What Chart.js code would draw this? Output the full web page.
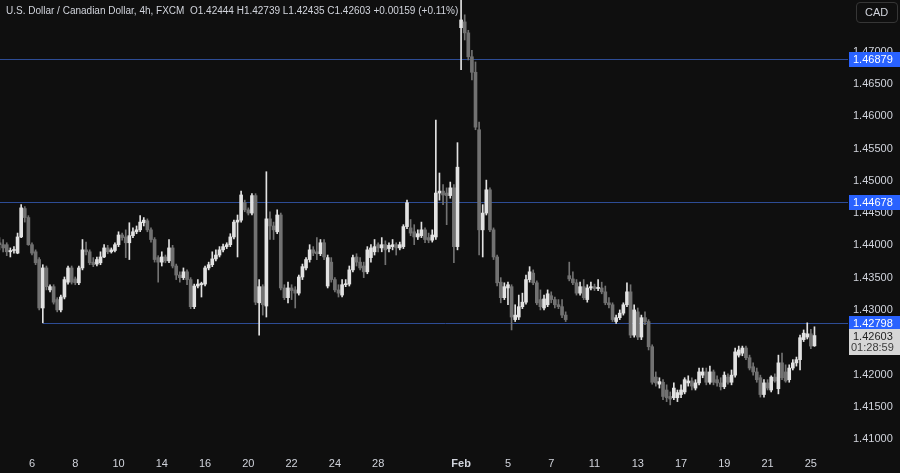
<!DOCTYPE html>
<html>
<head>
<meta charset="utf-8">
<script src="https://cdn.jsdelivr.net/npm/chart.js@4.4.1/dist/chart.umd.min.js"></script>
<style>
  html, body { margin: 0; padding: 0; background: #0f0f0f; }
  #wrap { position: relative; width: 900px; height: 473px; overflow: hidden; }
  #title { position: absolute; left: 6px; top: 5px; font: 10px "Liberation Sans", Arial, sans-serif; color: #d1d4dc; white-space: pre; }
  #cad { position: absolute; left: 856px; top: 2px; width: 40px; height: 19px; border: 1px solid #363636; border-radius: 4px;
         font: 11px "Liberation Sans", Arial, sans-serif; color: #d1d4dc; line-height: 19px; text-indent: 8px; }
</style>
</head>
<body>
<div id="wrap">
  <canvas id="chart" width="900" height="473"></canvas>
  <div id="title">U.S. Dollar / Canadian Dollar, 4h, FXCM  O1.42444 H1.42739 L1.42435 C1.42603 +0.00159 (+0.11%)</div>
  <div id="cad">CAD</div>
</div>
<script>
// USD/CAD 4h candles
const opens = [
  1.4404,1.4401,1.4401,1.4390,1.4392,1.4388,1.4413,1.4457,1.4443,1.4401,1.4390,1.4378,1.4303,1.4365,1.4331,1.4336,1.4316,1.4300,1.4320,1.4343,
  1.4365,1.4348,1.4342,1.4365,1.4393,1.4390,1.4374,1.4371,1.4373,1.4382,1.4396,1.4390,1.4392,1.4401,1.4416,1.4413,1.4404,1.4415,1.4421,1.4424,
  1.4435,1.4438,1.4424,1.4409,1.4381,1.4374,1.4382,1.4376,1.4396,1.4368,1.4354,1.4350,1.4359,1.4347,1.4305,1.4337,1.4339,1.4340,1.4365,1.4370,
  1.4379,1.4385,1.4393,1.4398,1.4401,1.4413,1.4436,1.4439,1.4466,1.4455,1.4450,1.4477,1.4311,1.4336,1.4306,1.4441,1.4430,1.4421,1.4447,1.4334,
  1.4319,1.4334,1.4331,1.4326,1.4351,1.4365,1.4378,1.4393,1.4390,1.4387,1.4404,1.4337,1.4374,1.4347,1.4331,1.4323,1.4339,1.4340,1.4362,1.4382,
  1.4374,1.4368,1.4359,1.4381,1.4390,1.4401,1.4396,1.4401,1.4395,1.4398,1.4401,1.4396,1.4398,1.4429,1.4427,1.4421,1.4413,1.4415,1.4424,1.4412,
  1.4408,1.4413,1.4481,1.4484,1.4481,1.4477,1.4489,1.4398,1.4737,1.4746,1.4729,1.4692,1.4668,1.4579,1.4424,1.4450,1.4486,1.4424,1.4382,1.4343,
  1.4319,1.4334,1.4336,1.4285,1.4289,1.4305,1.4312,1.4347,1.4357,1.4342,1.4316,1.4303,1.4308,1.4322,1.4316,1.4308,1.4305,1.4292,1.4353,1.4348,
  1.4342,1.4326,1.4336,1.4316,1.4334,1.4336,1.4333,1.4334,1.4328,1.4311,1.4308,1.4282,1.4288,1.4295,1.4308,1.4328,1.4261,1.4297,1.4258,1.4288,
  1.4282,1.4243,1.4196,1.4185,1.4188,1.4176,1.4166,1.4164,1.4164,1.4169,1.4173,1.4187,1.4190,1.4179,1.4187,1.4199,1.4204,1.4188,1.4204,1.4192,
  1.4187,1.4181,1.4196,1.4188,1.4199,1.4230,1.4233,1.4241,1.4226,1.4212,1.4204,1.4195,1.4169,1.4187,1.4176,1.4196,1.4178,1.4218,1.4204,1.4192,
  1.4210,1.4218,1.4223,1.4254,1.4258,1.4263,1.42444
];
const highs = [
  1.4412,1.4409,1.4404,1.4396,1.4398,1.4419,1.4463,1.4460,1.4446,1.4404,1.4393,1.4381,1.4370,1.4368,1.4339,1.4339,1.4319,1.4323,1.4351,1.4368,
  1.4368,1.4351,1.4368,1.4409,1.4405,1.4393,1.4381,1.4382,1.4390,1.4401,1.4400,1.4396,1.4404,1.4421,1.4419,1.4424,1.4435,1.4427,1.4430,1.4446,
  1.4443,1.4441,1.4427,1.4412,1.4384,1.4390,1.4385,1.4409,1.4400,1.4371,1.4359,1.4365,1.4362,1.4350,1.4340,1.4347,1.4343,1.4368,1.4374,1.4390,
  1.4393,1.4398,1.4402,1.4404,1.4418,1.4439,1.4447,1.4484,1.4470,1.4458,1.4480,1.4480,1.4347,1.4339,1.4514,1.4452,1.4436,1.4455,1.4450,1.4339,
  1.4343,1.4339,1.4336,1.4354,1.4371,1.4381,1.4401,1.4398,1.4412,1.4409,1.4409,1.4385,1.4381,1.4350,1.4339,1.4347,1.4347,1.4368,1.4385,1.4387,
  1.4381,1.4374,1.4398,1.4401,1.4409,1.4404,1.4412,1.4407,1.4404,1.4409,1.4404,1.4405,1.4432,1.4470,1.4440,1.4432,1.4424,1.4436,1.4427,1.4419,
  1.4424,1.4594,1.4512,1.4494,1.4489,1.4498,1.4494,1.4559,1.4785,1.4757,1.4733,1.4702,1.4684,1.4591,1.4463,1.4501,1.4489,1.4427,1.4385,1.4350,
  1.4342,1.4343,1.4339,1.4308,1.4323,1.4326,1.4354,1.4367,1.4362,1.4345,1.4331,1.4323,1.4331,1.4328,1.4320,1.4316,1.4316,1.4297,1.4374,1.4359,
  1.4347,1.4343,1.4347,1.4339,1.4343,1.4340,1.4347,1.4343,1.4337,1.4319,1.4311,1.4292,1.4300,1.4311,1.4342,1.4339,1.4308,1.4303,1.4292,1.4297,
  1.4285,1.4246,1.4204,1.4195,1.4192,1.4184,1.4173,1.4187,1.4176,1.4184,1.4195,1.4198,1.4195,1.4192,1.4210,1.4210,1.4210,1.4213,1.4207,1.4198,
  1.4195,1.4204,1.4201,1.4207,1.4241,1.4244,1.4244,1.4244,1.4230,1.4218,1.4210,1.4199,1.4192,1.4192,1.4198,1.4201,1.4230,1.4233,1.4215,1.4215,
  1.4223,1.4227,1.4261,1.4269,1.4280,1.4270,1.42739
];
const lows = [
  1.4393,1.4390,1.4384,1.4382,1.4388,1.4387,1.4412,1.4436,1.4400,1.4385,1.4370,1.4300,1.4280,1.4331,1.4328,1.4309,1.4297,1.4297,1.4317,1.4340,
  1.4340,1.4339,1.4339,1.4362,1.4385,1.4370,1.4367,1.4368,1.4370,1.4381,1.4387,1.4388,1.4390,1.4398,1.4408,1.4381,1.4378,1.4412,1.4418,1.4421,
  1.4430,1.4421,1.4405,1.4374,1.4343,1.4368,1.4373,1.4373,1.4365,1.4347,1.4343,1.4347,1.4339,1.4302,1.4302,1.4334,1.4320,1.4337,1.4362,1.4367,
  1.4376,1.4382,1.4390,1.4395,1.4398,1.4410,1.4382,1.4436,1.4452,1.4447,1.4447,1.4308,1.4261,1.4292,1.4289,1.4409,1.4409,1.4418,1.4331,1.4316,
  1.4311,1.4316,1.4303,1.4323,1.4347,1.4362,1.4374,1.4384,1.4378,1.4384,1.4378,1.4334,1.4343,1.4328,1.4320,1.4320,1.4336,1.4337,1.4359,1.4368,
  1.4362,1.4350,1.4356,1.4374,1.4385,1.4390,1.4390,1.4370,1.4390,1.4393,1.4385,1.4393,1.4395,1.4426,1.4415,1.4401,1.4409,1.4412,1.4404,1.4404,
  1.4405,1.4409,1.4470,1.4463,1.4432,1.4473,1.4373,1.4393,1.4672,1.4718,1.4687,1.4656,1.4579,1.4385,1.4382,1.4447,1.4421,1.4378,1.4337,1.4311,
  1.4316,1.4308,1.4269,1.4282,1.4285,1.4302,1.4309,1.4343,1.4339,1.4308,1.4300,1.4300,1.4305,1.4311,1.4303,1.4302,1.4288,1.4282,1.4345,1.4339,
  1.4323,1.4323,1.4316,1.4312,1.4331,1.4330,1.4330,1.4325,1.4308,1.4303,1.4282,1.4279,1.4285,1.4292,1.4305,1.4257,1.4258,1.4254,1.4254,1.4277,
  1.4238,1.4185,1.4182,1.4179,1.4161,1.4158,1.4153,1.4161,1.4158,1.4164,1.4170,1.4182,1.4176,1.4176,1.4184,1.4195,1.4184,1.4185,1.4184,1.4182,
  1.4176,1.4178,1.4185,1.4184,1.4196,1.4227,1.4229,1.4223,1.4207,1.4199,1.4188,1.4165,1.4165,1.4176,1.4173,1.4188,1.4170,1.4192,1.4188,1.4188,
  1.4207,1.4213,1.4207,1.4251,1.4255,1.4240,1.42435
];
const closes = [
  1.4401,1.4396,1.4390,1.4392,1.4393,1.4413,1.4458,1.4443,1.4401,1.4388,1.4373,1.4303,1.4365,1.4336,1.4336,1.4312,1.4300,1.4320,1.4347,1.4365,
  1.4343,1.4342,1.4365,1.4393,1.4390,1.4373,1.4370,1.4378,1.4382,1.4396,1.4390,1.4393,1.4401,1.4416,1.4412,1.4404,1.4415,1.4421,1.4424,1.4436,
  1.4439,1.4424,1.4409,1.4378,1.4374,1.4382,1.4376,1.4396,1.4368,1.4354,1.4350,1.4359,1.4347,1.4305,1.4337,1.4340,1.4341,1.4365,1.4370,1.4379,
  1.4385,1.4393,1.4398,1.4401,1.4413,1.4436,1.4439,1.4478,1.4455,1.4450,1.4477,1.4312,1.4336,1.4308,1.4441,1.4430,1.4424,1.4447,1.4334,1.4319,
  1.4334,1.4330,1.4326,1.4351,1.4367,1.4378,1.4393,1.4388,1.4387,1.4404,1.4382,1.4381,1.4347,1.4331,1.4326,1.4339,1.4340,1.4362,1.4381,1.4374,
  1.4365,1.4359,1.4393,1.4396,1.4398,1.4396,1.4401,1.4393,1.4400,1.4401,1.4396,1.4401,1.4429,1.4466,1.4419,1.4413,1.4418,1.4424,1.4409,1.4408,
  1.4416,1.4481,1.4484,1.4478,1.4477,1.4489,1.4398,1.4521,1.4749,1.4729,1.4692,1.4668,1.4583,1.4424,1.4450,1.4486,1.4424,1.4382,1.4342,1.4319,
  1.4336,1.4339,1.4289,1.4292,1.4305,1.4312,1.4347,1.4359,1.4342,1.4311,1.4305,1.4317,1.4325,1.4316,1.4308,1.4305,1.4292,1.4285,1.4348,1.4342,
  1.4326,1.4336,1.4319,1.4334,1.4336,1.4333,1.4335,1.4328,1.4311,1.4308,1.4285,1.4288,1.4295,1.4308,1.4328,1.4261,1.4300,1.4258,1.4288,1.4282,
  1.4243,1.4188,1.4187,1.4189,1.4166,1.4164,1.4162,1.4179,1.4172,1.4176,1.4192,1.4190,1.4182,1.4187,1.4204,1.4204,1.4188,1.4204,1.4188,1.4187,
  1.4181,1.4199,1.4188,1.4199,1.4235,1.4238,1.4241,1.4226,1.4210,1.4204,1.4192,1.4169,1.4187,1.4179,1.4196,1.4190,1.4218,1.4195,1.4190,1.4210,
  1.4218,1.4223,1.4257,1.4264,1.4263,1.4244,1.42603
];

// date labels on the time axis and the candle each one sits under
const tickLabels = ['6', '8', '10', '14', '16', '20', '22', '24', '28', 'Feb', '5', '7', '11', '13', '17', '19', '21', '25'];
const tickIdx = [9, 21, 33, 45, 57, 69, 81, 93, 105, 128, 141, 153, 165, 177, 189, 201, 213, 225];
const priceTicks = [1.41, 1.415, 1.42, 1.425, 1.43, 1.435, 1.44, 1.445, 1.45, 1.455, 1.46, 1.465, 1.47];

// horizontal levels drawn on the chart (and the candle where each starts)
const levels = [1.46879, 1.44678, 1.42798];
const levelFrom = [0, 0, 12];
const lastPrice = 1.42603;
const countdown = '01:28:59';

const FONT = '"Liberation Sans", Arial, sans-serif';
const UP = '#e2e2e2';
const DOWN = '#727272';
Chart.defaults.font.family = FONT;

const candleColors = closes.map((c, i) => (c >= opens[i] ? UP : DOWN));
const wickData = lows.map((l, i) => ({ x: i, y: [l, highs[i]] }));
const bodyData = opens.map((o, i) => ({ x: i, y: [o, closes[i]] }));

const noPadding = (s) => {
    s.paddingTop = 0;
    s.paddingBottom = 0;
    s.paddingLeft = 0;
    s.paddingRight = 0;
};

const levelLines = {
    id: 'levelLines',
    beforeDatasetsDraw(chart) {
        const { ctx, chartArea, scales } = chart;
        ctx.save();
        ctx.strokeStyle = '#2d4c95';
        ctx.lineWidth = 1;
        levels.forEach((v, i) => {
            const y = Math.round(scales.y.getPixelForValue(v)) + 0.5;
            const x0 = levelFrom[i] === 0 ? chartArea.left : scales.x.getPixelForValue(levelFrom[i]);
            ctx.beginPath();
            ctx.moveTo(x0, y);
            ctx.lineTo(chartArea.right, y);
            ctx.stroke();
        });
        ctx.restore();
    },
    afterDraw(chart) {
        const { ctx, chartArea, scales } = chart;
        const x = chartArea.right + 1;
        ctx.save();
        ctx.font = '11px ' + FONT;
        ctx.textBaseline = 'middle';
        ctx.textAlign = 'left';
        levels.forEach((v) => {
            const y = Math.round(scales.y.getPixelForValue(v));
            ctx.fillStyle = '#2962ff';
            ctx.fillRect(x, y - 7, 52, 15);
            ctx.fillStyle = '#ffffff';
            ctx.fillText(v.toFixed(5), x + 4, y + 1);
        });
        // last price + bar countdown
        const yl = Math.round(scales.y.getPixelForValue(lastPrice));
        ctx.fillStyle = '#d6d6d6';
        ctx.fillRect(x, yl - 7, 52, 26);
        ctx.fillStyle = '#1e1e1e';
        ctx.fillText(lastPrice.toFixed(5), x + 4, yl + 1);
        ctx.fillStyle = '#3c3c3c';
        ctx.fillText(countdown, x + 2, yl + 12);
        ctx.restore();
    }
};

new Chart(document.getElementById('chart'), {
    type: 'bar',
    data: {
        datasets: [
            {
                label: 'wick',
                data: wickData,
                backgroundColor: candleColors,
                barThickness: 1,
                grouped: false,
                borderWidth: 0
            },
            {
                label: 'body',
                data: bodyData,
                backgroundColor: candleColors,
                barThickness: 3,
                minBarLength: 1,
                grouped: false,
                borderWidth: 0
            }
        ]
    },
    options: {
        responsive: false,
        animation: false,
        devicePixelRatio: 1,
        layout: { padding: 0 },
        plugins: {
            legend: { display: false },
            tooltip: { enabled: false }
        },
        scales: {
            x: {
                type: 'linear',
                offset: false,
                min: 0.13,
                max: 235.3,
                grid: { display: false, drawTicks: false },
                border: { display: false },
                afterBuildTicks: (s) => { s.ticks = tickIdx.map((v) => ({ value: v })); },
                afterFit: (s) => { s.height = 21; noPadding(s); },
                ticks: {
                    color: '#d1d4dc',
                    padding: 5,
                    maxRotation: 0,
                    autoSkip: false,
                    font: (c) => ({ family: FONT, size: 11, weight: c.index === 9 ? 'bold' : 'normal' }),
                    callback: (v) => tickLabels[tickIdx.indexOf(v)]
                }
            },
            y: {
                position: 'right',
                min: 1.4080,
                max: 1.47799,
                grid: { display: false, drawTicks: false },
                border: { display: false },
                afterBuildTicks: (s) => { s.ticks = priceTicks.map((v) => ({ value: v })); },
                afterFit: (s) => { s.width = 52; noPadding(s); },
                ticks: {
                    color: '#d1d4dc',
                    padding: 5,
                    font: { family: FONT, size: 11 },
                    callback: (v) => v.toFixed(5)
                }
            }
        }
    },
    plugins: [levelLines]
});
</script>
</body>
</html>
